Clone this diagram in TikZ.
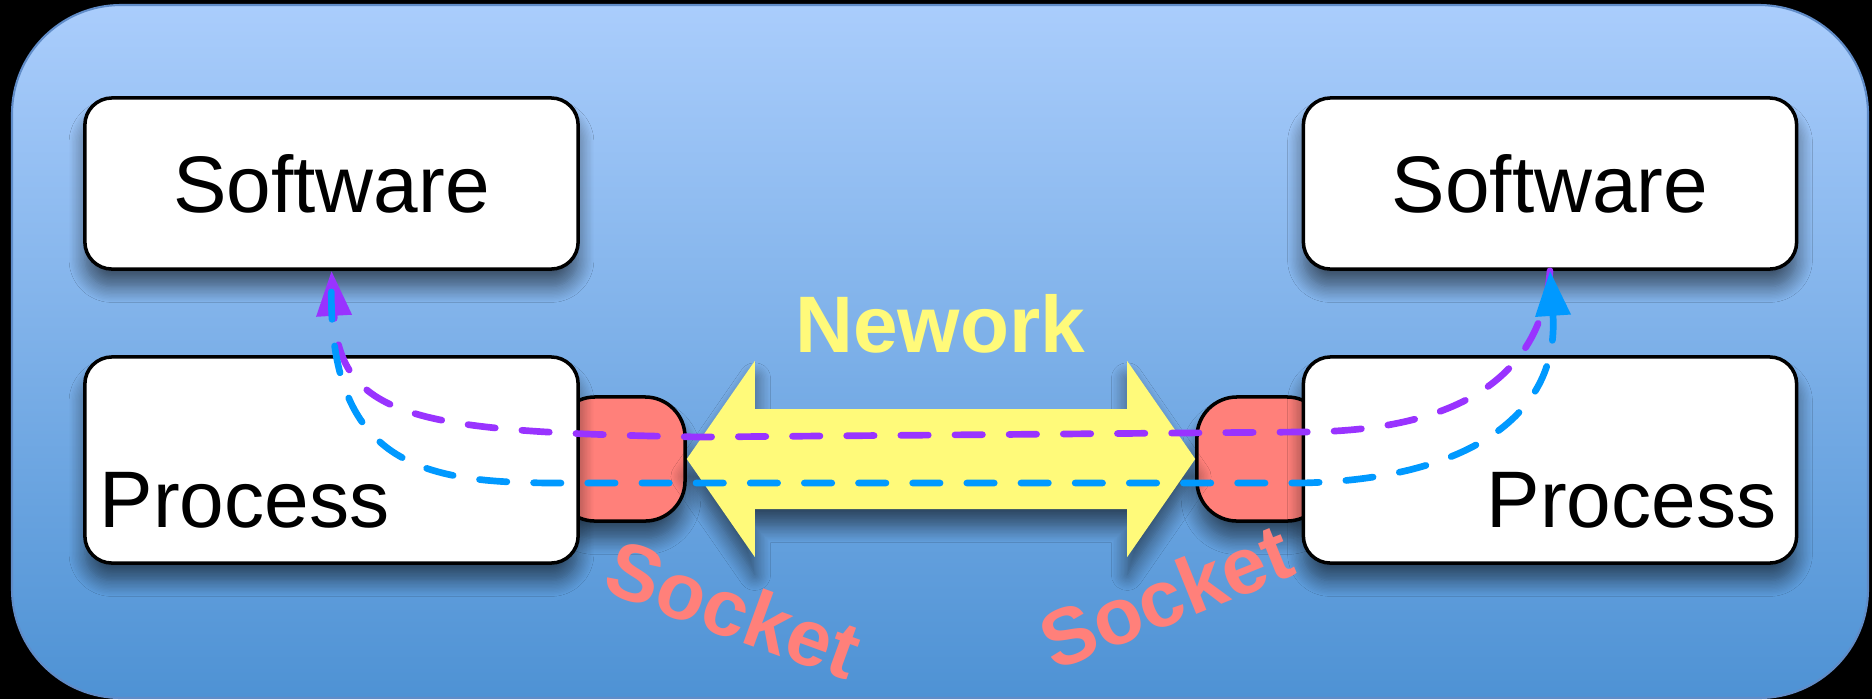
\documentclass[tikz,border=0pt]{standalone}
\usepackage{fontspec}
\setmainfont{Liberation Sans}
\usepackage{tikz}
\usetikzlibrary{calc,shadows.blur,arrows.meta}
\definecolor{skytop}{RGB}{170,205,252}
\definecolor{skybot}{RGB}{78,146,212}
\definecolor{skyedge}{RGB}{96,140,200}
\definecolor{sockred}{RGB}{255,128,122}
\definecolor{netyellow}{RGB}{255,250,122}
\definecolor{flowpurple}{RGB}{153,51,255}
\definecolor{flowblue}{RGB}{0,153,255}
\tikzset{
big/.style={font=\fontsize{22.8pt}{27pt}\selectfont},
soft/.style={blur shadow={shadow xshift=0pt,shadow yshift=-5pt,shadow blur radius=4.5pt,
  shadow blur steps=12,shadow opacity=55}},
box/.style={soft,draw=black,line width=1pt,fill=white,rounded corners=7.7pt,
  minimum width=4.93cm,inner sep=0pt,big},
sock/.style={soft,draw=black,line width=1pt,fill=sockred,rectangle,rounded corners=11.4pt,
  minimum width=1.3cm,minimum height=1.24cm,inner sep=0pt},
flow/.style={line width=1.9pt,line cap=round,dash pattern=on 7.8pt off 7.6pt,
  -{Triangle[length=12.8pt,width=9.7pt]}},
}
\tikzstyle{lbl} = [big, inner sep=0pt, font=\fontsize{22.8pt}{27pt}\selectfont\bfseries]

\begin{document}
\begin{tikzpicture}[x=0.01cm,y=-0.01cm]
\useasboundingbox (0,0) rectangle (1872,699);
\fill[black] (0,0) rectangle (1872,699);
\draw[skyedge,line width=0.6pt,top color=skytop,bottom color=skybot,rounded corners=31pt]
  (12,5) rectangle (1868,698);

% sockets sit behind the process boxes
\node[sock] (sockL) at (620,459) {};
\node[sock] (sockR) at (1262,459) {};

\node[box,minimum height=1.71cm] (softL) at (331.5,183.5) {Software};
\node[box,minimum height=2.06cm] (procL) at (331.5,460) {};
\node[box,minimum height=1.71cm] (softR) at (1550,183.5) {Software};
\node[box,minimum height=2.06cm] (procR) at (1550,460) {};
\node[big,inner sep=0pt,anchor=base west] (procLtxt) at (99,527) {Process};
\node[big,inner sep=0pt,anchor=base east] (procRtxt) at (1777,527) {Process};

% network
\fill[soft,netyellow] (sockL.east) -- ++(68,-98) -- ++(0,48)
  -- ($(sockR.west)+(-68,-50)$) -- ++(0,-48) -- (sockR.west) -- ++(-68,98)
  -- ++(0,-48) -- ($(sockL.east)+(68,50)$) -- ++(0,48) -- cycle;
\node[lbl,text=netyellow] (net) at (940,324) {Nework};

\node[lbl,text=sockred,rotate=-20] (sockLtxt) at (734,609) {Socket};
\node[lbl,text=sockred,rotate=22] (sockRtxt) at (1166,596) {Socket};

\draw[flow,flowpurple] (softR.south) .. controls (1540,400) and (1420,432) .. (1300,432)
  -- (700,437) .. controls (420,432) and (340,420) .. (softL.south);
\draw[flow,flowblue,shorten <=6pt] (softL.south) .. controls (330,470) and (430,483) .. (560,483)
  -- (1300,483) .. controls (1460,480) and (1560,420) .. (softR.south);
\end{tikzpicture}
\end{document}
